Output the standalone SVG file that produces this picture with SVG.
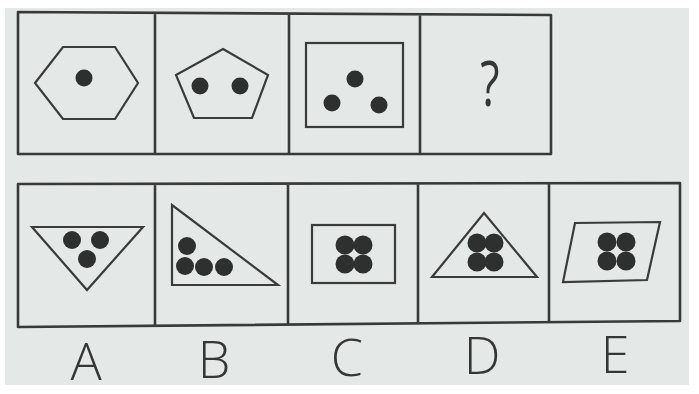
<svg xmlns="http://www.w3.org/2000/svg" width="699" height="394" viewBox="0 0 699 394">
<style>
.frame{fill:none;stroke:#383a3a;stroke-width:2.6;stroke-linejoin:round}
.shape{fill:none;stroke:#3a3c3c;stroke-width:2.2;stroke-linejoin:miter}
.dot{fill:#2e3030}
.lbl{font-family:"Open Sans","Liberation Sans",sans-serif;font-weight:300;font-size:52px;fill:#353737;text-anchor:middle}
.q{font-family:"Open Sans","Liberation Sans",sans-serif;font-weight:400;font-size:62px;fill:#353737;text-anchor:middle}
</style>
<rect width="699" height="394" fill="#ffffff"/>
<rect x="5" y="8" width="684" height="377" fill="#e4e8e7"/>
<g id="top-row-frame">
<path class="frame" d="M18,12 L551,15 L551,154 L18,154 Z M155,12.5 L155,154 M289,13 L289,154 M420,14 L420,154"/>
</g>
<g id="bottom-row-frame">
<path class="frame" d="M18,184 L680,183 L680,321 L18,327 Z M155,184 L155,326 M288,184 L288,325 M418,183 L418,323 M549,183 L549,322"/>
</g>
<g id="panel-1">
<polygon class="shape" points="35,83 63,47 115,47 138,83 115,119 63,119"/>
<circle class="dot" cx="84" cy="78" r="8.5"/>
</g>
<g id="panel-2">
<polygon class="shape" points="223,49 268,75 252,118 194,118 176,75"/>
<circle class="dot" cx="200" cy="86" r="8.5"/>
<circle class="dot" cx="240" cy="86" r="8.5"/>
</g>
<g id="panel-3">
<rect class="shape" x="306" y="43" width="97" height="84"/>
<circle class="dot" cx="355" cy="79" r="8.5"/>
<circle class="dot" cx="332" cy="103" r="8.5"/>
<circle class="dot" cx="379" cy="105" r="8.5"/>
</g>
<g id="panel-4">
<text class="q" x="0" y="106" transform="translate(490,0) scale(0.72,1)">?</text>
</g>
<g id="option-A">
<polygon class="shape" points="32,227 143,227 87,290"/>
<circle class="dot" cx="72" cy="240" r="9"/>
<circle class="dot" cx="100" cy="240" r="9"/>
<circle class="dot" cx="87" cy="259" r="9"/>
<text class="lbl" x="86" y="380">A</text>
</g>
<g id="option-B">
<polygon class="shape" points="172,205 172,285 278,285"/>
<circle class="dot" cx="187" cy="246" r="9"/>
<circle class="dot" cx="185" cy="266" r="9"/>
<circle class="dot" cx="204" cy="267" r="9"/>
<circle class="dot" cx="224" cy="267" r="9"/>
<text class="lbl" x="214" y="378">B</text>
</g>
<g id="option-C">
<rect class="shape" x="312" y="225" width="83" height="58"/>
<circle class="dot" cx="345" cy="245" r="9.5"/>
<circle class="dot" cx="363" cy="245" r="9.5"/>
<circle class="dot" cx="345" cy="264" r="9.5"/>
<circle class="dot" cx="363" cy="264" r="9.5"/>
<text class="lbl" x="347" y="376">C</text>
</g>
<g id="option-D">
<polygon class="shape" points="484,213 537,277 432,277"/>
<circle class="dot" cx="477" cy="243" r="9.5"/>
<circle class="dot" cx="494" cy="243" r="9.5"/>
<circle class="dot" cx="477" cy="262" r="9.5"/>
<circle class="dot" cx="494" cy="262" r="9.5"/>
<text class="lbl" x="482" y="374">D</text>
</g>
<g id="option-E">
<polygon class="shape" points="575,223 660,222 647,280 563,282"/>
<circle class="dot" cx="607" cy="242" r="9.5"/>
<circle class="dot" cx="626" cy="242" r="9.5"/>
<circle class="dot" cx="607" cy="261" r="9.5"/>
<circle class="dot" cx="626" cy="261" r="9.5"/>
<text class="lbl" x="615" y="373">E</text>
</g>
<g id="connectors"/>
</svg>
